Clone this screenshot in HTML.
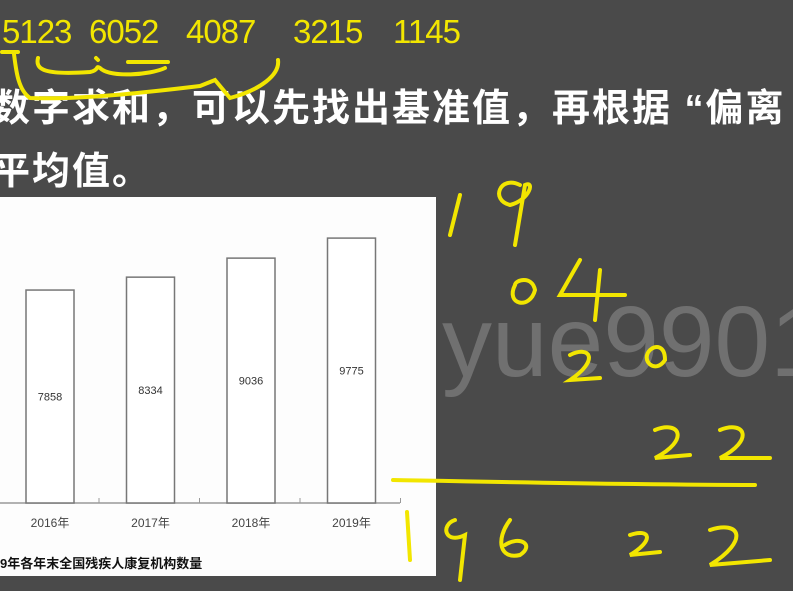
<!DOCTYPE html>
<html><head><meta charset="utf-8"><style>
body{margin:0;width:793px;height:591px;background:#4a4a4a;overflow:hidden;position:relative;font-family:"Liberation Sans","Noto Sans CJK SC",sans-serif}
.t{position:absolute;color:#fff;font-weight:bold;font-size:38px;line-height:40px;white-space:nowrap;letter-spacing:2px}
.n{position:absolute;top:13px;color:#f2e600;font-size:33px;line-height:38px;white-space:nowrap;letter-spacing:-1px}
</style></head><body>
<div class="n" style="left:2px">5123</div>
<div class="n" style="left:89px">6052</div>
<div class="n" style="left:186px">4087</div>
<div class="n" style="left:293px">3215</div>
<div class="n" style="left:393px">1145</div>
<div class="t" style="left:-8px;top:89px">数字求和，可以先找出基准值，再根据 “偏离</div>
<div class="t" style="left:-8px;top:152px">平均值。</div>
<div style="position:absolute;left:442px;top:285px;color:#707070;font-size:100px;white-space:nowrap">yue9901</div>
<div style="position:absolute;left:0;top:197px;width:436px;height:379px;background:#fdfdfd"></div>
<svg width="793" height="591" style="position:absolute;left:0;top:0">
<g id="bars"></g>
<text x="0" y="568" font-size="13" font-weight="bold" fill="#111" font-family="Liberation Sans,Noto Sans CJK SC,sans-serif">9年各年末全国残疾人康复机构数量</text>
<g fill="none" stroke="#f2e600" stroke-width="4" stroke-linecap="round">
<path d="M2 52 L18 52 M14 54 C16 70 18 90 30 98 C80 100 150 92 200 86 L215 80 L230 98 C260 90 280 75 278 60"/>
<path d="M38 58 C35 70 45 75 90 72 C100 70 95 65 100 68 C110 78 150 75 165 68"/>
<path d="M128 62 L168 62 M96 58 L98 60"/>
<path d="M460 195 L450 235 M520 185 C500 175 490 200 510 205 C530 200 535 180 525 185 L515 245"/>
<path d="M515 285 C505 305 530 310 535 290 C532 275 515 280 515 285 M580 260 L560 295 L625 295 M600 270 L595 320"/>
<path d="M570 355 C590 345 600 360 570 380 L600 378 M650 350 C640 360 655 375 665 360 C665 345 655 345 650 350"/>
<path d="M655 430 C680 420 690 440 655 458 L690 455 M720 430 C745 420 755 440 720 458 L770 458"/>
<path d="M393 480 C500 482 650 485 755 485"/>
<path d="M407 512 L410 560 M455 520 C440 525 445 545 465 535 L460 580 M510 520 C495 540 500 560 520 555 C535 545 520 535 505 545"/>
<path d="M630 535 C650 528 655 540 630 555 L660 552 M710 530 C740 520 750 540 710 565 L770 560"/>
</g>
</svg>
<script>
const categories=["2016年","2017年","2018年","2019年"];
const values=[7858,8334,9036,9775];
const g=document.getElementById('bars');
const NS='http://www.w3.org/2000/svg';
const base=503,k=0.0271,x0=26,step=100.5,bw=48;
const y=v=>base-v*k;
function mk(t,a){const e=document.createElementNS(NS,t);for(const n in a)e.setAttribute(n,a[n]);g.appendChild(e);return e;}
const ax=mk('line',{x1:0,y1:base,x2:400,y2:base,stroke:'#999','stroke-width':1.5});


categories.forEach((c,i)=>{
 const x=x0+i*step;
 const r=mk('rect',{x:x,y:y(values[i]),width:bw,height:values[i]*k,fill:'#fff',stroke:'#777','stroke-width':1.5});
 
 
 const v=mk('text',{x:x+bw/2,y:(y(values[i])+base)/2+4,'text-anchor':'middle','font-size':11,fill:'#333'});
 v.textContent=values[i];
 
 
 const l=mk('text',{x:x+bw/2,y:527,'text-anchor':'middle','font-size':12,fill:'#444'});
 l.textContent=c;
 
 
 const tk=mk('line',{x1:x+bw+25,y1:base,x2:x+bw+25,y2:base-5,stroke:'#999'});
 
 
});
</script>
</body></html>
